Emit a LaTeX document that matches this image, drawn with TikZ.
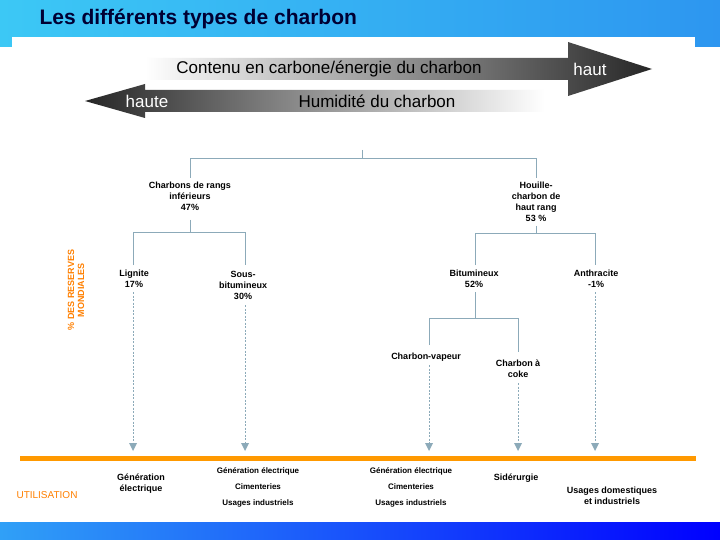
\documentclass[tikz,border=0pt]{standalone}
\usepackage{fontspec}
\setmainfont{Liberation Sans}
\definecolor{lc}{RGB}{140,170,185}
\definecolor{hl}{RGB}{60,200,245}
\definecolor{hr}{RGB}{45,150,240}
\begin{document}
\begin{tikzpicture}[x=1pt,y=-1pt,
  ln/.style={draw=lc, line width=0.8pt},
  dl/.style={draw=lc, line width=0.8pt, dash pattern=on 2pt off 1.5pt},
  tx/.style={font=\bfseries\fontsize{9}{11}\selectfont, align=center, text=black},
  tip/.style={fill=lc, draw=none}]
\useasboundingbox (0,0) rectangle (720,540);
\shade[left color=hl, right color=hr] (0,0) rectangle (720,47);
\fill[white] (12,37) rectangle (695,47);
\fill[white] (0,47) rectangle (720,522);
\shade[left color=hl!80!blue, right color=blue] (0,522) rectangle (720,540);
\node[anchor=west, font=\bfseries\fontsize{21}{24}\selectfont, text=blue!20!black] (title) at (36,19) {Les différents types de charbon};
% arrows
\shade[left color=white, right color=black!85] (145,58) -- (568,58) -- (568,42) -- (652,69) -- (568,96) -- (568,80) -- (145,80) -- cycle;
\shade[left color=black!85, right color=white] (545,90) -- (145,90) -- (145,84) -- (85,101) -- (145,118) -- (145,112) -- (545,112) -- cycle;
\node[font=\fontsize{17}{19}\selectfont] (c1) at (329,69) {Contenu en carbone/énergie du charbon};
\node[font=\fontsize{17}{19}\selectfont, text=white] (c2) at (590,69) {haut};
\node[font=\fontsize{17}{19}\selectfont, text=white] (c3) at (147,101) {haute};
\node[font=\fontsize{17}{19}\selectfont] (c4) at (377,101) {Humidité du charbon};
% tree
\coordinate (r) at (362,150);
\draw[ln] (r) -- (362,158) (190,178) -- (190,158) -- (536,158) -- (536,178);
\node[tx] (inf) at (190,196) {Charbons de rangs\\inférieurs\\47\%};
\node[tx] (hou) at (536,202) {Houille-\\charbon de\\haut rang\\53 \%};
\draw[ln] (190,220) -- (190,232) (133,265) -- (133,232) -- (245,232) -- (245,265);
\draw[ln] (536,226) -- (536,233) (475,265) -- (475,233) -- (595,233) -- (595,265);
\node[tx] (lig) at (134,279) {Lignite\\17\%};
\node[tx] (sous) at (243,285) {Sous-\\bitumineux\\30\%};
\node[tx] (bit) at (474,279) {Bitumineux\\52\%};
\node[tx] (ant) at (596,279) {Anthracite\\-1\%};
\draw[ln] (475,292) -- (475,318) (429,345) -- (429,318) -- (518,318) -- (518,352);
\node[tx] (vap) at (426,357) {Charbon-vapeur};
\node[tx] (cok) at (518,369) {Charbon à\\coke};
\foreach \x/\y in {133/292,245/305,429/365,518/383,595/292}{
  \draw[dl] (\x,\y) -- (\x,444);
  \fill[tip] (\x-4,443) -- (\x+4,443) -- (\x,451) -- cycle;
}
\draw[draw=orange!80!yellow, line width=5pt] (20,458) -- (696,458);
\node[font=\bfseries\fontsize{9}{10}\selectfont, text=orange, rotate=90, align=center] (res) at (76,290) {\% DES RESERVES\\MONDIALES};
\node[font=\fontsize{10}{12}\selectfont, text=orange] (ut) at (47,495) {UTILISATION};
\node[tx] (u1) at (141,484) {Génération\\électrique};
\node[tx, font=\bfseries\fontsize{8}{16}\selectfont] (u2) at (258,487) {Génération électrique\\Cimenteries\\Usages industriels};
\node[tx, font=\bfseries\fontsize{8}{16}\selectfont] (u3) at (411,487) {Génération électrique\\Cimenteries\\Usages industriels};
\node[tx] (u4) at (516,478) {Sidérurgie};
\node[tx] (u5) at (612,496) {Usages domestiques\\et industriels};
\end{tikzpicture}
\end{document}
